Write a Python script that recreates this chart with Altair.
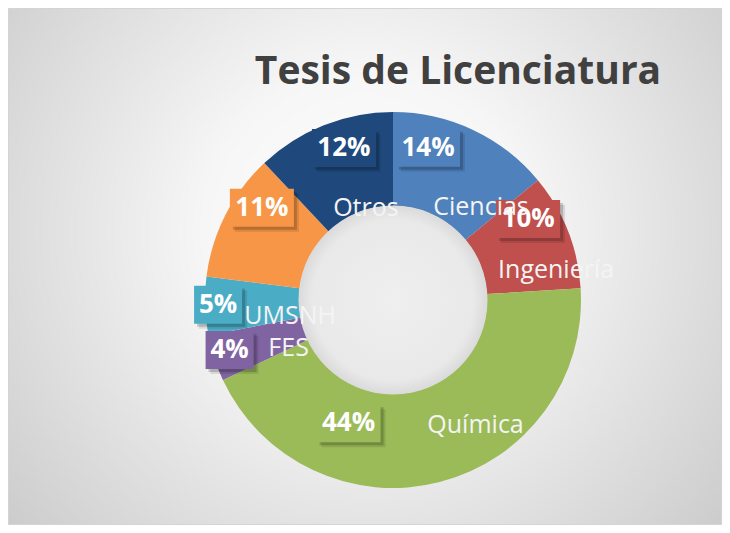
import math
import altair as alt
import pandas as pd

# ---------------- data ----------------
categories = ["Ciencias", "Ingeniería", "Química", "FES", "UMSNH", "", "Otros"]
percentages = [14, 10, 44, 4, 5, 11, 12]
pct_labels = ["14%", "10%", "44%", "4%", "5%", "11%", "12%"]
title_text = "Tesis de Licenciatura"

# ---------------- style / layout ----------------
colors = ["#4F81BD", "#C0504D", "#9BBB59", "#8064A2", "#4BACC6", "#F79646", "#1F497D"]
W, H = 658, 450
PAD_L, PAD_T = 56, 67
R_OUT, R_IN = 188, 94
R_LABEL = 155
# manual label nudges (screen px, like hand-placed Excel data labels)
pct_nudge = [(-31, -12), (-9, -24), (-83, -27), (-16, 2), (-20, 0), (7, -22), (8, -8)]
name_shift = [(53, 59), (28, 51), (127, 2), (59, -2), (72, 11), (0, 0), (22, 60)]
BOX_H = 38
TITLE_X, TITLE_Y = 394, 9   # plot-area px (baseline)

total = float(sum(percentages))
rows = []
cum = 0.0
for i, (cat, v, lab) in enumerate(zip(categories, percentages, pct_labels)):
    mid = (cum + v / 2.0) / total * 2 * math.pi
    cum += v
    px = R_LABEL * math.sin(mid) + pct_nudge[i][0]
    py = -R_LABEL * math.cos(mid) + pct_nudge[i][1]
    bw = 16 + 16 * len(lab)
    rows.append(dict(
        idx=i, cat=cat, value=v, lab=lab,
        px=px, py=py,
        nx=px + name_shift[i][0], ny=py + name_shift[i][1],
        bx0=px - bw / 2, bx1=px + bw / 2, by0=py - BOX_H / 2, by1=py + BOX_H / 2,
    ))
df = pd.DataFrame(rows)

xs = alt.Scale(domain=[-W / 2, W / 2], nice=False, zero=False)
ys = alt.Scale(domain=[-H / 2, H / 2], nice=False, zero=False, reverse=True)
cscale = alt.Scale(domain=list(range(len(categories))), range=colors)

bg = alt.Chart(alt.Data(values=[{"a": 1}])).mark_rect(
    color=alt.RadialGradient(
        gradient="radial", x1=0.5, y1=0.45, r1=0, x2=0.5, y2=0.45, r2=0.75,
        stops=[alt.GradientStop(offset=0, color="#ffffff"),
               alt.GradientStop(offset=0.3, color="#f6f6f6"),
               alt.GradientStop(offset=1, color="#c2c2c2")]),
    stroke="#d4d4d4", strokeWidth=1,
).encode(
    x=alt.value(-PAD_L + 0.5), x2=alt.value(W - 0.5),
    y=alt.value(-PAD_T + 0.5), y2=alt.value(H - 0.5),
)

title_mark = alt.Chart(alt.Data(values=[{"t": title_text}])).mark_text(
    font="Open Sans", fontSize=39, fontWeight="bold", color="#404040",
    align="center", baseline="alphabetic",
).encode(x=alt.value(TITLE_X), y=alt.value(TITLE_Y), text="t:N")

shadow_arc = alt.Chart(alt.Data(values=[{"v": 1}])).mark_arc(
    outerRadius=R_OUT + 2, innerRadius=R_IN + 6, color="#000000", opacity=0.12
).encode(theta=alt.Theta("v:Q"), x=alt.value(W / 2 + 3), y=alt.value(H / 2 + 4))

donut = alt.Chart(df).mark_arc(outerRadius=R_OUT, innerRadius=R_IN).encode(
    theta=alt.Theta("value:Q", stack=True),
    color=alt.Color("idx:N", scale=cscale, legend=None),
    order=alt.Order("idx:Q"),
)

hole = alt.Chart(alt.Data(values=[{"v": 1}])).mark_point(
    shape="circle", size=(2 * R_IN + 1) ** 2, opacity=1, filled=True, strokeWidth=0,
    fill=alt.RadialGradient(
        gradient="radial", x1=0.5, y1=0.5, r1=0, x2=0.5, y2=0.5, r2=0.5,
        stops=[alt.GradientStop(offset=0, color="#efefef"),
               alt.GradientStop(offset=0.85, color="#e9e9e9"),
               alt.GradientStop(offset=1, color="#dadada")]),
).encode(x=alt.value(W / 2), y=alt.value(H / 2))

def box_layer(dx, dy, opacity):
    return alt.Chart(df).transform_calculate(
        sx0=f"datum.bx0 + {dx}", sx1=f"datum.bx1 + {dx}",
        sy0=f"datum.by0 + {dy}", sy1=f"datum.by1 + {dy}",
    ).mark_rect(color="#000000", opacity=opacity).encode(
        x=alt.X("sx0:Q", scale=xs, axis=None), x2="sx1:Q",
        y=alt.Y("sy0:Q", scale=ys, axis=None), y2="sy1:Q",
    )

shadow1 = box_layer(5, 5, 0.10)
shadow2 = box_layer(3, 3, 0.18)

boxes = alt.Chart(df).mark_rect().encode(
    x=alt.X("bx0:Q", scale=xs, axis=None), x2="bx1:Q",
    y=alt.Y("by0:Q", scale=ys, axis=None), y2="by1:Q",
    color=alt.Color("idx:N", scale=cscale, legend=None),
)
pct_text = alt.Chart(df).mark_text(
    font="Open Sans", fontSize=26, fontWeight="bold", color="white",
    align="center", baseline="middle",
).encode(
    x=alt.X("px:Q", scale=xs, axis=None),
    y=alt.Y("py:Q", scale=ys, axis=None),
    text="lab:N",
)
name_text = alt.Chart(df).mark_text(
    font="Open Sans", fontSize=25, color="#f4f4f4",
    align="center", baseline="middle",
).encode(
    x=alt.X("nx:Q", scale=xs, axis=None),
    y=alt.Y("ny:Q", scale=ys, axis=None),
    text="cat:N",
)

chart = alt.layer(
    bg, title_mark, shadow_arc, donut, hole, shadow1, shadow2, boxes, pct_text, name_text
).properties(
    width=W, height=H,
    padding={"left": PAD_L, "top": PAD_T, "right": 0, "bottom": 0},
    autosize=alt.AutoSizeParams(type="none"),
).configure_view(stroke=None).configure(background="white")

chart.save("out.html", embed_options={"renderer": "svg", "actions": False})
